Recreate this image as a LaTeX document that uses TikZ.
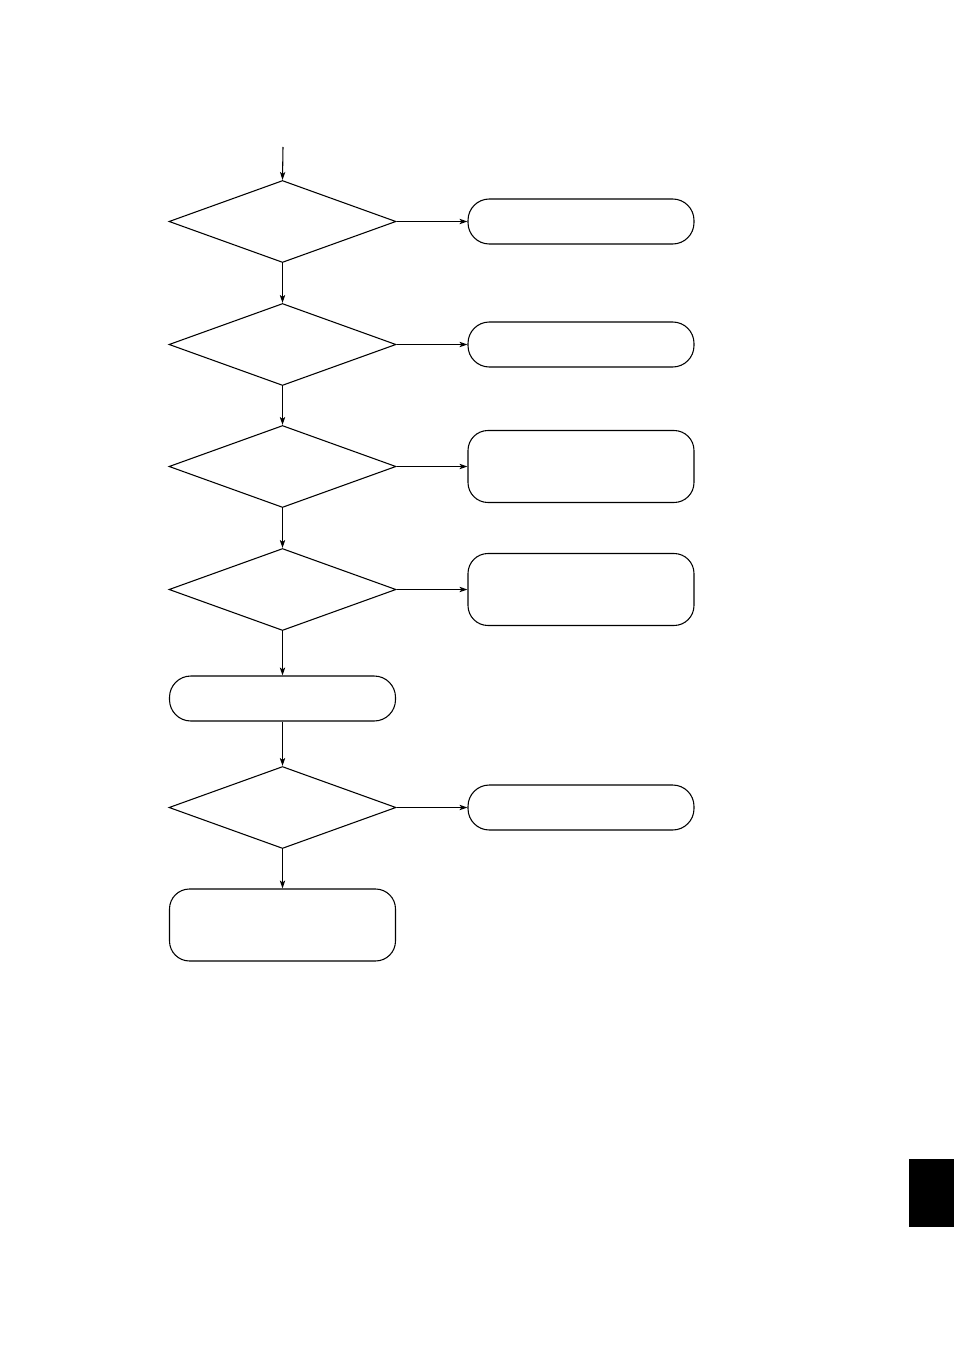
\documentclass[tikz,border=0pt]{standalone}
\usetikzlibrary{shapes.geometric,arrows.meta}
\begin{document}
\begin{tikzpicture}[x=0.75pt,y=-0.75pt,line width=0.8pt,
    >={Stealth[length=6pt,width=4pt,inset=1.5pt]},
    decision/.style={draw,diamond,inner sep=0pt,minimum width=170.25pt,minimum height=61.5pt},
    action/.style={draw,rectangle,rounded corners=16pt,inner sep=0pt,minimum width=169.5pt,minimum height=33.75pt},
    tallaction/.style={action,rounded corners=15pt,minimum height=54pt}]
\useasboundingbox (0,0) rectangle (954,1348);
% main column
\coordinate (entry) at (283,147);
\node [decision] (q1) at (282.5,221.5) {};
\node [decision] (q2) at (282.5,344.5) {};
\node [decision] (q3) at (282.5,466.5) {};
\node [decision] (q4) at (282.5,589.5) {};
\node [action] (step) at (282.5,698.5) {};
\node [decision] (q5) at (282.5,807.5) {};
\node [tallaction] (done) at (282.5,925) {};
% side column
\node [action] (a1) at (581,221.5) {};
\node [action] (a2) at (581,344.5) {};
\node [tallaction] (a3) at (581,466.5) {};
\node [tallaction] (a4) at (581,589.5) {};
\node [action] (a5) at (581,807.5) {};
% connectors
\draw [->] (entry) -- (q1.north);
\draw [->] (q1) -- (q2);
\draw [->] (q2) -- (q3);
\draw [->] (q3) -- (q4);
\draw [->] (q4) -- (step);
\draw [->] (step) -- (q5);
\draw [->] (q5) -- (done);
\draw [->] (q1.east) -- (a1.west);
\draw [->] (q2.east) -- (a2.west);
\draw [->] (q3.east) -- (a3.west);
\draw [->] (q4.east) -- (a4.west);
\draw [->] (q5.east) -- (a5.west);
% page tab
\fill (909,1159) rectangle (954,1227);
\end{tikzpicture}
\end{document}
